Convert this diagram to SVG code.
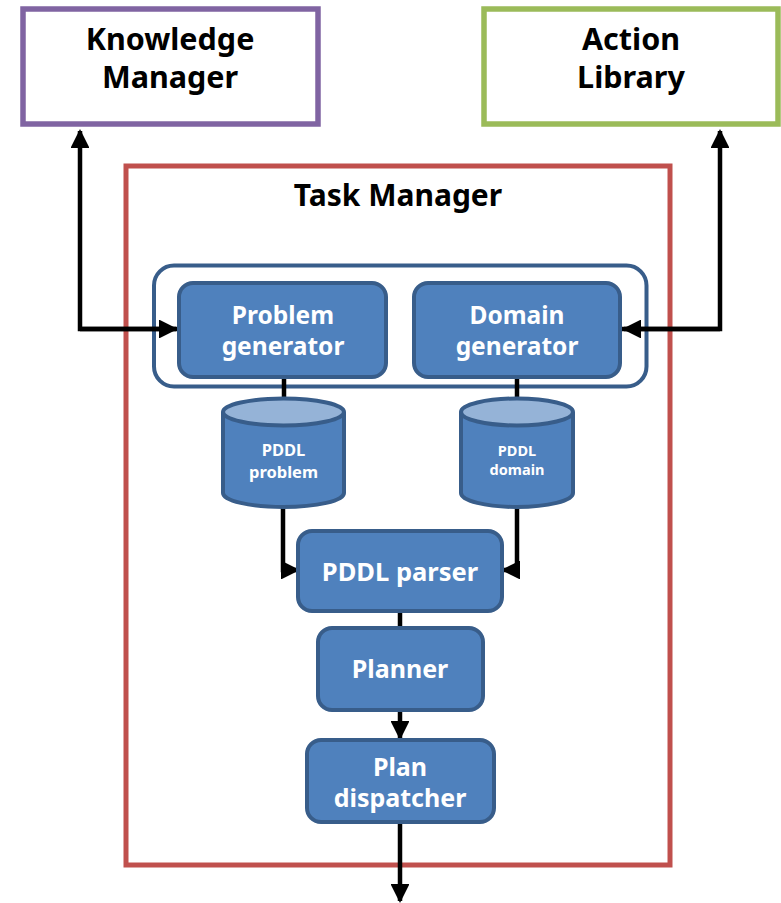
<svg xmlns="http://www.w3.org/2000/svg" width="781" height="903" viewBox="0 0 781 903">
  <defs>
    <style>
      .lbl { font-family: "Noto Sans", "Open Sans", "Liberation Sans", sans-serif; font-weight: bold; text-anchor: middle; }
      .dark { fill: #000000; }
      .light { fill: #FFFFFF; }
      .proc { fill: #4F81BD; stroke: #385D8A; stroke-width: 4; }
      .wire { fill: none; stroke: #000000; stroke-width: 4.5; stroke-linejoin: miter; }
    </style>
    <marker id="arrow" viewBox="0 0 10 10" refX="9" refY="5" markerWidth="4.4" markerHeight="4.2" markerUnits="strokeWidth" orient="auto">
      <path d="M0,0 L10,5 L0,10 Z" fill="#000000"/>
    </marker>
  </defs>

  <rect width="781" height="903" fill="#FFFFFF"/>

  <!-- external modules -->
  <g id="knowledge-manager">
    <rect x="23" y="9" width="295" height="115" fill="#FFFFFF" stroke="#8064A2" stroke-width="5.5"/>
    <text class="lbl dark" x="170" y="50" font-size="30.5">Knowledge</text>
    <text class="lbl dark" x="170" y="88" font-size="30.5">Manager</text>
  </g>

  <g id="action-library">
    <rect x="484" y="9" width="294" height="115" fill="#FFFFFF" stroke="#9BBB59" stroke-width="5.5"/>
    <text class="lbl dark" x="631" y="50" font-size="30.5">Action</text>
    <text class="lbl dark" x="631" y="88" font-size="30.5">Library</text>
  </g>

  <!-- task manager container -->
  <g id="task-manager">
    <rect x="126" y="166" width="544" height="699" fill="none" stroke="#C0504D" stroke-width="5"/>
    <text class="lbl dark" x="398" y="206" font-size="30">Task Manager</text>
  </g>

  <g id="generators">
    <rect x="154" y="265.5" width="492.5" height="121" rx="20" fill="none" stroke="#385D8A" stroke-width="4"/>
  </g>

  <!-- connectors -->
  <g id="connectors">
    <path class="wire" d="M178,329 H80 V131" marker-end="url(#arrow)"/>
    <path class="wire" d="M80,329 H176" marker-end="url(#arrow)"/>
    <path class="wire" d="M622,329 H720 V131" marker-end="url(#arrow)"/>
    <path class="wire" d="M720,329 H624" marker-end="url(#arrow)"/>
    <path class="wire" d="M284,378 V400"/>
    <path class="wire" d="M517,378 V400"/>
    <path class="wire" d="M283,505 V570 H298" marker-end="url(#arrow)"/>
    <path class="wire" d="M517,505 V570 H503" marker-end="url(#arrow)"/>
    <path class="wire" d="M400,612 V628"/>
    <path class="wire" d="M400,711 V738" marker-end="url(#arrow)"/>
    <path class="wire" d="M400,823 V901" marker-end="url(#arrow)"/>
  </g>

  <g id="problem-generator">
    <rect class="proc" x="179" y="283" width="207" height="94" rx="14"/>
    <text class="lbl light" x="283" y="324" font-size="24.5">Problem</text>
    <text class="lbl light" x="283" y="355" font-size="24.5">generator</text>
  </g>

  <g id="domain-generator">
    <rect class="proc" x="414" y="283" width="206" height="94" rx="14"/>
    <text class="lbl light" x="517" y="324" font-size="24.5">Domain</text>
    <text class="lbl light" x="517" y="355" font-size="24.5">generator</text>
  </g>

  <g id="pddl-problem">
    <path d="M223,412 V493 A60.5,14 0 0 0 344,493 V412" fill="#4F81BD" stroke="#385D8A" stroke-width="4"/>
    <ellipse cx="283.5" cy="412" rx="60.5" ry="13.5" fill="#95B3D7" stroke="#385D8A" stroke-width="4"/>
    <text class="lbl light" x="283.5" y="456" font-size="16.5">PDDL</text>
    <text class="lbl light" x="283.5" y="478" font-size="16.5">problem</text>
  </g>

  <g id="pddl-domain">
    <path d="M461,412 V493 A56,14 0 0 0 573,493 V412" fill="#4F81BD" stroke="#385D8A" stroke-width="4"/>
    <ellipse cx="517" cy="412" rx="56" ry="13.5" fill="#95B3D7" stroke="#385D8A" stroke-width="4"/>
    <text class="lbl light" x="517" y="456" font-size="14.5">PDDL</text>
    <text class="lbl light" x="517" y="475" font-size="14.5">domain</text>
  </g>

  <g id="pddl-parser">
    <rect class="proc" x="298" y="531" width="204" height="80" rx="14"/>
    <text class="lbl light" x="400" y="581" font-size="25.5">PDDL parser</text>
  </g>

  <g id="planner">
    <rect class="proc" x="318" y="628" width="165" height="82" rx="14"/>
    <text class="lbl light" x="400" y="678" font-size="25">Planner</text>
  </g>

  <g id="plan-dispatcher">
    <rect class="proc" x="307" y="740" width="187" height="82" rx="14"/>
    <text class="lbl light" x="400" y="776" font-size="25">Plan</text>
    <text class="lbl light" x="400" y="807" font-size="25">dispatcher</text>
  </g>
</svg>
